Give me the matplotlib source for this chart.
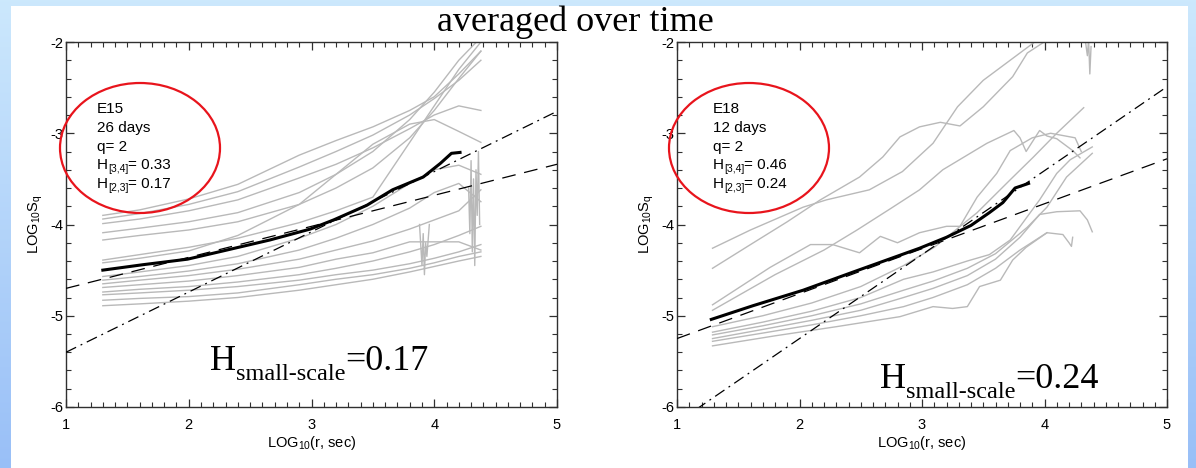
import numpy as np
import matplotlib
matplotlib.use("Agg")
import matplotlib.pyplot as plt
from matplotlib.patches import Ellipse, Rectangle
from matplotlib.ticker import MultipleLocator

plt.rcParams['axes.unicode_minus'] = False
plt.rcParams['mathtext.fontset'] = 'custom'
plt.rcParams['mathtext.rm'] = 'Liberation Sans'
plt.rcParams['mathtext.sf'] = 'Liberation Sans'
plt.rcParams['mathtext.it'] = 'Liberation Sans'

W, H = 1196, 468

# ---------------- data ----------------
title = "averaged over time"
x_ticks = [1, 2, 3, 4, 5]
y_ticks = [-6, -5, -4, -3, -2]

# Left panel (E15)
left_info = ["E15", "26 days", "q= 2", ("[3,4]", "= 0.33"), ("[2,3]", "= 0.17")]
left_hsmall = "=0.17"
left_x = [1.3, 1.6, 2.0, 2.4, 2.9, 3.2, 3.5, 3.8, 4.0, 4.2, 4.38]
left_gray = [
    [-3.90, -3.84, -3.72, -3.56, -3.24, -3.08, -2.93, -2.75, -2.60, -2.35, -2.10],
    [-3.94, -3.88, -3.78, -3.64, -3.37, -3.20, -3.02, -2.80, -2.62, -2.42, -2.20],
    [-3.99, -3.94, -3.85, -3.73, -3.49, -3.34, -3.16, -2.95, -2.80, -2.70, -2.75],
    [-4.09, -4.04, -3.97, -3.87, -3.65, -3.45, -3.20, -2.85, -2.55, -2.20, -1.95],
    [-4.17, -4.12, -4.06, -3.97, -3.78, -3.60, -3.38, -3.05, -2.75, -2.40, -2.10],
    [-4.39, -4.33, -4.25, -4.15, -3.98, -3.85, -3.70, -3.10, -2.70, -2.30, -2.00],
    [-4.42, -4.37, -4.29, -4.12, -3.78, -3.45, -3.12, -2.90, -2.85, -2.98, -3.10],
    [-4.57, -4.52, -4.45, -4.35, -4.15, -4.00, -3.80, -3.55, -3.40, -3.35, -3.45],
    [-4.61, -4.57, -4.51, -4.43, -4.28, -4.15, -4.00, -3.82, -3.65, -3.55, -3.75],
    [-4.65, -4.61, -4.56, -4.49, -4.38, -4.28, -4.18, -4.05, -3.95, -3.85, -3.62],
    [-4.69, -4.66, -4.62, -4.56, -4.47, -4.38, -4.31, -4.19, -4.19, -4.19, -4.28],
    [-4.74, -4.71, -4.68, -4.63, -4.55, -4.48, -4.40, -4.30, -4.22, -4.12, -4.02],
    [-4.77, -4.75, -4.72, -4.68, -4.61, -4.55, -4.50, -4.43, -4.37, -4.30, -4.22],
    [-4.83, -4.81, -4.79, -4.75, -4.66, -4.60, -4.55, -4.48, -4.42, -4.35, -4.30],
    [-4.89, -4.87, -4.84, -4.80, -4.72, -4.66, -4.60, -4.52, -4.46, -4.40, -4.35],
]
left_spike_x = [4.28, 4.29, 4.30, 4.31, 4.32, 4.33, 4.34, 4.35, 4.36, 4.37]
left_spike_y = [-3.60, -4.10, -3.30, -4.30, -3.50, -4.45, -3.40, -3.90, -3.20, -4.00]
left_spike2_x = [3.88, 3.90, 3.91, 3.92, 3.93, 3.94, 3.96]
left_spike2_y = [-4.00, -4.45, -4.10, -4.55, -4.20, -4.35, -4.00]
left_avg_x = [1.30, 1.63, 1.99, 2.31, 2.66, 2.99, 3.18, 3.45, 3.66, 3.91, 4.05, 4.14, 4.21]
left_avg_y = [-4.50, -4.44, -4.38, -4.28, -4.17, -4.05, -3.95, -3.79, -3.62, -3.48, -3.33, -3.22, -3.21]
left_fit_x = [1, 5]
left_fit34_y = [-5.40, -2.76]
left_fit23_y = [-4.70, -3.34]

# Right panel (E18)
right_info = ["E18", "12 days", "q= 2", ("[3,4]", "= 0.46"), ("[2,3]", "= 0.24")]
right_hsmall = "=0.24"
right_gray = [
    ([1.29, 1.6, 1.9, 2.17, 2.49, 2.68, 2.82, 2.98, 3.15, 3.31, 3.50, 3.74, 3.86, 4.02, 4.15, 4.33, 4.35, 4.36, 4.37, 4.38],
     [-4.48, -4.22, -3.97, -3.73, -3.48, -3.26, -3.04, -2.93, -2.88, -2.92, -2.71, -2.38, -2.12, -1.98, -1.90, -1.95, -2.15, -1.97, -2.35, -2.05]),
    ([1.29, 1.6, 2.03, 2.22, 2.57, 2.84, 3.09, 3.29, 3.50, 3.72, 3.91, 4.0],
     [-4.26, -4.06, -3.81, -3.73, -3.62, -3.42, -3.11, -2.71, -2.42, -2.20, -2.01, -1.90]),
    ([1.29, 1.76, 2.09, 2.27, 2.49, 2.66, 2.80, 2.98, 3.20, 3.31, 3.45, 3.61, 3.72, 3.90, 4.05, 4.25, 4.30],
     [-4.88, -4.47, -4.22, -4.22, -4.31, -4.13, -4.20, -4.09, -4.02, -4.02, -3.70, -3.44, -3.19, -3.05, -3.00, -3.05, -3.20]),
    ([1.29, 1.8, 2.2, 2.47, 2.75, 2.98, 3.17, 3.53, 3.64, 3.75, 3.80, 3.85, 3.96, 4.02, 4.10, 4.23, 4.29],
     [-4.94, -4.55, -4.28, -4.06, -3.82, -3.62, -3.40, -3.11, -3.04, -2.97, -3.05, -3.20, -2.97, -3.03, -3.06, -3.19, -3.27]),
    ([1.29, 1.7, 2.1, 2.5, 2.85, 3.1, 3.45, 3.72, 3.91, 4.10, 4.32],
     [-5.12, -5.00, -4.86, -4.68, -4.45, -4.25, -3.87, -3.51, -3.26, -3.00, -2.72]),
    ([1.29, 1.7, 2.1, 2.5, 2.85, 3.09, 3.37, 3.55, 3.72, 3.96, 4.10, 4.21, 4.39],
     [-5.18, -5.07, -4.95, -4.80, -4.60, -4.52, -4.40, -4.33, -4.17, -3.73, -3.44, -3.29, -3.15]),
    ([1.29, 1.7, 2.1, 2.5, 2.85, 3.09, 3.37, 3.6, 3.86, 4.02, 4.18, 4.39],
     [-5.21, -5.11, -5.00, -4.87, -4.72, -4.62, -4.48, -4.32, -4.03, -3.81, -3.48, -3.22]),
    ([1.29, 1.7, 2.1, 2.5, 2.85, 3.09, 3.37, 3.6, 3.8, 3.96, 4.10, 4.29, 4.35, 4.39],
     [-5.25, -5.15, -5.05, -4.94, -4.80, -4.70, -4.56, -4.38, -4.14, -3.89, -3.86, -3.85, -3.95, -4.08]),
    ([1.29, 1.7, 2.1, 2.5, 2.85, 3.09, 3.37, 3.6, 3.8, 4.02, 4.15, 4.20, 4.22, 4.23],
     [-5.28, -5.19, -5.10, -5.00, -4.90, -4.80, -4.66, -4.48, -4.28, -4.09, -4.11, -4.20, -4.24, -4.14]),
    ([1.29, 1.8, 2.3, 2.82, 3.09, 3.25, 3.37, 3.47, 3.64, 3.74, 3.85, 4.02],
     [-5.33, -5.22, -5.12, -5.01, -4.90, -4.92, -4.90, -4.68, -4.61, -4.39, -4.25, -4.09]),
]
right_avg_x = [1.28, 1.62, 2.03, 2.44, 2.71, 2.98, 3.20, 3.40, 3.55, 3.66, 3.76, 3.87]
right_avg_y = [-5.04, -4.89, -4.72, -4.52, -4.39, -4.26, -4.14, -4.01, -3.87, -3.76, -3.60, -3.55]
right_fit_x = [1, 5]
right_fit34_y = [-6.17, -2.49]
right_fit23_y = [-5.25, -3.28]

# ---------------- figure ----------------
fig = plt.figure(figsize=(W / 100, H / 100), dpi=100)
fig.patch.set_facecolor('#c8e4fc')

bg = fig.add_axes([0, 0, 1, 1], zorder=-10)
grad = np.linspace(0, 1, 256)[:, None]
top_c = np.array([0.80, 0.91, 0.99])
bot_c = np.array([0.60, 0.75, 0.97])
img = top_c[None, None, :] * (1 - grad[:, :, None]) + bot_c[None, None, :] * grad[:, :, None]
bg.imshow(img, aspect='auto', extent=[0, 1, 0, 1], origin='upper')
bg.add_patch(Rectangle((11 / W, 0), (1188 - 11) / W, 1 - 6 / H, facecolor='white',
                       edgecolor='none', transform=bg.transAxes))
bg.set_xlim(0, 1); bg.set_ylim(0, 1)
bg.axis('off')

GRAY = '#b9b9b9'
SANS = 'Liberation Sans'
SERIF = 'Liberation Serif'

renderer = fig.canvas.get_renderer()


def text_runs(x_px, y_px, parts, family):
    """parts: list of (string, size_pt, dy_px) drawn left to right, baseline at y_px."""
    x = x_px
    for s, size, dy in parts:
        t = fig.text(x / W, 1 - (y_px + dy) / H, s, ha='left', va='baseline',
                     family=family, fontsize=size, color='black', zorder=20)
        bb = t.get_window_extent(renderer)
        x += bb.width


def make_panel(left_px, width_px, gray_lines, avg_x, avg_y, fit_x, fit34, fit23):
    ax = fig.add_axes([left_px / W, (H - 407) / H, width_px / W, (407 - 42) / H], zorder=1)
    ax.set_facecolor('white')
    for xs, ys in gray_lines:
        ax.plot(xs, ys, color=GRAY, lw=1.0, zorder=2)
    ax.plot(fit_x, fit34, color='black', lw=0.9, ls=(0, (9, 4, 1.5, 4)), zorder=3)
    ax.plot(fit_x, fit23, color='black', lw=0.9, ls=(0, (11, 7)), zorder=3)
    ax.plot(avg_x, avg_y, color='black', lw=2.2, zorder=4)
    ax.set_xlim(1, 5)
    ax.set_ylim(-6, -2)
    ax.set_xticks(x_ticks)
    ax.set_yticks(y_ticks)
    ax.set_xticklabels([str(v) for v in x_ticks])
    ax.set_yticklabels([str(v) for v in y_ticks])
    ax.xaxis.set_minor_locator(MultipleLocator(0.1))
    ax.yaxis.set_minor_locator(MultipleLocator(0.2))
    ax.tick_params(which='both', direction='in', top=True, right=True, color='#303030')
    ax.tick_params(which='major', length=6, width=0.9)
    ax.tick_params(which='minor', length=3.5, width=0.8)
    ax.tick_params(axis='x', which='major', pad=8, labelsize=10.5)
    ax.tick_params(axis='y', which='major', pad=2, labelsize=10.5)
    for lab in ax.get_xticklabels() + ax.get_yticklabels():
        lab.set_family(SANS)
    for sp in ax.spines.values():
        sp.set_color('#303030')
        sp.set_linewidth(1.0)
    ax.set_xlabel(r'LOG$_{\mathsf{10}}$(r, sec)', family=SANS, fontsize=10.5, labelpad=1)
    ax.set_ylabel(r'LOG$_{\mathsf{10}}$S$_{\mathsf{q}}$', family=SANS, fontsize=10.5, labelpad=4)
    return ax


left_lines = [(left_x, ys) for ys in left_gray] + [(left_spike_x, left_spike_y), (left_spike2_x, left_spike2_y)]
axL = make_panel(66, 557 - 66, left_lines, left_avg_x, left_avg_y, left_fit_x, left_fit34_y, left_fit23_y)
axR = make_panel(677, 1167 - 677, right_gray, right_avg_x, right_avg_y, right_fit_x, right_fit34_y, right_fit23_y)

# title
fig.text(575 / W, 1 - 22 / H, title, ha='center', va='center', family=SERIF, fontsize=26, zorder=20)

# ellipses with info text
for cx, info, tx in [(140, left_info, 97), (749, right_info, 713)]:
    e = Ellipse((cx / W, 1 - 148 / H), 160 / W, 130 / H, transform=fig.transFigure,
                fill=False, edgecolor='#e8141c', lw=1.6, zorder=15)
    fig.add_artist(e)
    base = 113
    for i, item in enumerate(info):
        y = base + i * 18.8
        if isinstance(item, tuple):
            sub, rest = item
            text_runs(tx, y, [("H", 11, 0), (sub, 7.5, 3), (rest, 11, 0)], SANS)
        else:
            text_runs(tx, y, [(item, 11, 0)], SANS)

# big H_small-scale labels
for x0, y0, val in [(210, 370, left_hsmall), (880, 388, right_hsmall)]:
    text_runs(x0, y0, [("H", 26, 0), ("small-scale", 17.5, 10), (val, 26, 0)], SERIF)

fig.savefig('out.png', dpi=100, facecolor=fig.get_facecolor())
